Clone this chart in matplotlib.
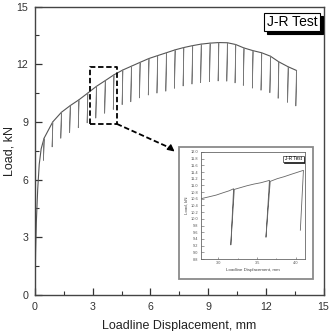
import matplotlib

matplotlib.use("Agg")

import matplotlib.pyplot as plt
from matplotlib.patches import Rectangle
from matplotlib.ticker import MultipleLocator

plt.rcParams["font.family"] = ["Liberation Sans", "DejaVu Sans"]

# elastic start of the test record
start_disp = [0.0, 0.03, 0.07, 0.14, 0.22, 0.32]
start_load = [0.3, 2.2, 3.8, 5.5, 6.8, 7.6]

# partial unloading points: displacement, load before and after unloading
unload_disp = [0.47, 0.92, 1.37, 1.83, 2.28, 2.74, 3.19, 3.65, 4.10, 4.56,
               5.01, 5.46, 5.92, 6.37, 6.83, 7.28, 7.73, 8.19, 8.64, 9.10,
               9.55, 10.00, 10.43, 10.86, 11.33, 11.78, 12.24, 12.67, 13.16, 13.59]
unload_top = [8.15, 9.0, 9.5, 9.85, 10.15, 10.5, 10.85, 11.15, 11.45, 11.7,
              11.9, 12.1, 12.3, 12.45, 12.6, 12.75, 12.87, 12.97, 13.05, 13.1,
              13.13, 13.12, 13.03, 12.85, 12.71, 12.6, 12.42, 12.13, 11.87, 11.68]
unload_bottom = [7.0, 7.7, 8.15, 8.45, 8.7, 8.95, 9.2, 9.45, 9.65, 9.9,
                 10.05, 10.25, 10.4, 10.5, 10.6, 10.75, 10.87, 10.97, 11.05, 11.1,
                 11.13, 11.12, 11.03, 10.9, 10.76, 10.65, 10.52, 10.23, 10.02, 9.83]

# zoomed record (inset)
zoom_disp = [2.77, 2.88, 2.97, 3.06, 3.14, 3.196, 3.16, 3.205, 3.28, 3.37, 3.46,
             3.55, 3.66, 3.615, 3.67, 3.76, 3.85, 3.94, 4.02, 4.10, 4.06]
zoom_load = [10.6, 10.66, 10.71, 10.78, 10.84, 10.9, 9.22, 10.88, 10.93, 10.99, 11.04,
             11.08, 11.15, 9.45, 11.12, 11.2, 11.26, 11.33, 11.39, 11.45, 9.66]

main_ticks = [0, 3, 6, 9, 12, 15]
zoom_xticks = [3.0, 3.5, 4.0]
box_x = [2.85, 4.25]
box_y = [8.9, 11.85]
arrow_tip = (7.37, 7.37)


def label_box(axes, x0, y0, w, h, dx, dy, lw):
    # white label box with a black drop shadow, in axes fraction
    axes.add_patch(Rectangle((x0 + dx, y0 - dy), w, h, transform=axes.transAxes,
                             fc="black", ec="black", lw=lw, zorder=5))
    axes.add_patch(Rectangle((x0, y0), w, h, transform=axes.transAxes,
                             fc="white", ec="black", lw=lw, zorder=6))


fig = plt.figure(figsize=(3.29, 3.31), dpi=100)
ax = fig.add_axes([0.1064, 0.109, 0.877, 0.871])

env_x = start_disp + unload_disp
env_y = start_load + unload_top
ax.plot(env_x, env_y, color="#555555", lw=0.8)
for x, top, bot in zip(unload_disp, unload_top, unload_bottom):
    ax.plot([x, x - 0.03, x + 0.01], [top, bot, top - 0.05], color="#777777", lw=0.55)

ax.set_xlim(0, 15)
ax.set_ylim(0, 15)
ax.set_xticks(main_ticks)
ax.set_yticks(main_ticks)
ax.xaxis.set_minor_locator(MultipleLocator(1.5))
ax.yaxis.set_minor_locator(MultipleLocator(1.5))
ax.tick_params(which="both", direction="in", top=False, right=False,
               colors="#333333", labelsize=7.7, pad=5)
ax.tick_params(which="major", length=5, width=0.9)
ax.tick_params(which="minor", length=3, width=0.8)
for s in ax.spines.values():
    s.set_color("#444444")
    s.set_linewidth(1.0)
ax.set_xlabel("Loadline Displacement, mm", fontsize=9, color="#222222", labelpad=6)
ax.set_ylabel("Load, kN", fontsize=9, color="#222222")
ax.yaxis.set_label_coords(-0.066, 0.5)

# dashed box and arrow to the inset
ax.plot([box_x[0], box_x[1], box_x[1], box_x[0], box_x[0]],
        [box_y[0], box_y[0], box_y[1], box_y[1], box_y[0]],
        color="black", lw=1.3, ls=(0, (3, 1.5)))
ax.plot([box_x[1], arrow_tip[0] - 0.35], [box_y[0], arrow_tip[1] + 0.28],
        color="black", lw=1.3, ls=(0, (3, 1.5)))
ax.annotate("", xy=arrow_tip, xytext=(arrow_tip[0] - 0.5, arrow_tip[1] + 0.4),
            arrowprops=dict(arrowstyle="-|>", color="black", lw=1.0, mutation_scale=10))

label_box(ax, 0.794, 0.917, 0.194, 0.062, 0.011, 0.011, 0.8)
ax.text(0.891, 0.948, "J-R Test", transform=ax.transAxes, fontsize=10, color="black",
        ha="center", va="center", zorder=7)

# inset frame
frame = Rectangle((179 / 329, 52 / 331), 134 / 329, 132 / 331, transform=fig.transFigure,
                  fc="white", ec="#8a8a8a", lw=1.3, zorder=2)
fig.add_artist(frame)

ins = fig.add_axes([0.610, 0.2175, 0.317, 0.3235], zorder=3)
ins.plot(zoom_disp, zoom_load, color="#666666", lw=0.6)
ins.set_xlim(2.77, 4.12)
ins.set_ylim(8.8, 12.0)
ins.set_xticks(zoom_xticks)
ins.xaxis.set_minor_locator(MultipleLocator(0.25))
ins.yaxis.set_major_locator(MultipleLocator(0.2))
ins.tick_params(which="both", direction="in", labelsize=2.8, pad=1.5,
                colors="#555555", width=0.4)
ins.tick_params(which="major", length=1.8)
ins.tick_params(which="minor", length=1.0)
for s in ins.spines.values():
    s.set_color("#666666")
    s.set_linewidth(0.6)
ins.set_xlabel("Loadline Displacement, mm", fontsize=3.2, color="#444444", labelpad=2)
ins.set_ylabel("Load, kN", fontsize=3.2, color="#444444", labelpad=2)

label_box(ins, 0.79, 0.905, 0.2, 0.06, 0.01, 0.01, 0.4)
ins.text(0.89, 0.935, "J-R Test", transform=ins.transAxes, fontsize=3.3, ha="center",
         va="center", zorder=7)

fig.savefig("out.png", dpi=100, facecolor="white")
plt.close(fig)
